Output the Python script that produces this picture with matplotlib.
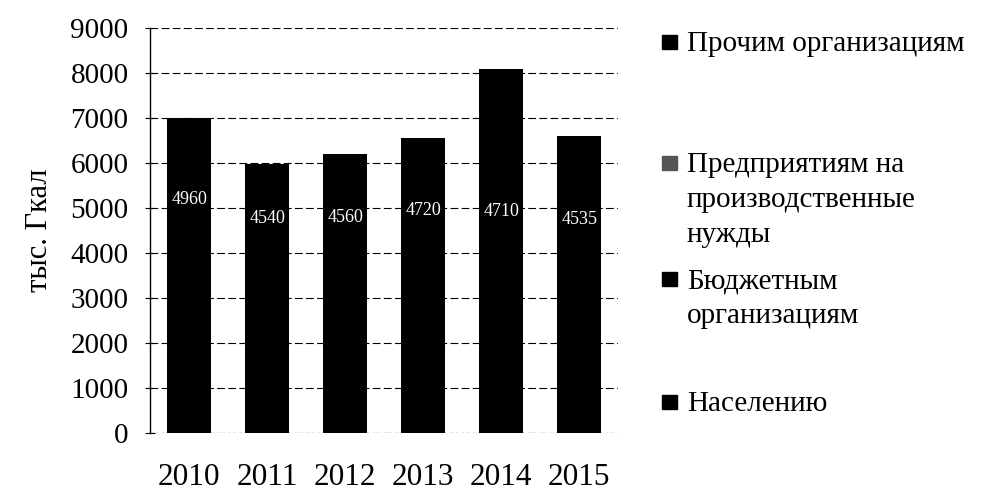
import numpy as np
import matplotlib.pyplot as plt
from matplotlib.patches import Rectangle

# data (тыс. Гкал)
years = ['2010', '2011', '2012', '2013', '2014', '2015']
naseleniyu = [4960, 4540, 4560, 4720, 4710, 4535]
byudzhetnym = [1300, 900, 1000, 1150, 2600, 1350]
predpriyatiyam = [440, 330, 380, 390, 490, 425]
prochim = [300, 200, 250, 300, 300, 300]
series_names = ['Населению', 'Бюджетным организациям',
                'Предприятиям на производственные нужды', 'Прочим организациям']

plt.rcParams['font.family'] = ['Liberation Serif', 'DejaVu Serif']

fig = plt.figure(figsize=(9.94, 4.93), dpi=100)
ax = fig.add_axes([0.151, 0.122, 0.471, 0.821])

x = np.arange(len(years))
w = 0.56
bottom = np.zeros(len(years))
bars = []
for vals in [naseleniyu, byudzhetnym, predpriyatiyam, prochim]:
    b = ax.bar(x, vals, w, bottom=bottom, color='black', zorder=3)
    bars.append(b)
    bottom += np.array(vals)

# population values written in white just above the segment edge
ax.bar_label(bars[0], labels=[str(v) for v in naseleniyu], label_type='edge',
             padding=1, color='white', fontsize=13, zorder=4)

ax.set_xlim(-0.5, len(years) - 0.5)
ax.set_ylim(0, 9000)
ax.set_yticks(np.arange(0, 9001, 1000))
ax.set_xticks(x)
ax.set_xticklabels(years)
ax.tick_params(axis='y', labelsize=21, direction='inout', length=7, width=0.8, pad=12)
ax.tick_params(axis='x', labelsize=22.5, length=0, pad=22)
ax.yaxis.grid(True, color='black', linestyle=(0, (7, 3)), linewidth=0.8, zorder=1)
for s in ['top', 'right', 'bottom']:
    ax.spines[s].set_visible(False)
ax.spines['left'].set_linewidth(1.0)
ax.axhline(0, color='black', linestyle=(0, (2, 3)), linewidth=0.8, zorder=2)
ax.set_ylabel('тыс. Гкал', fontsize=22, labelpad=12)

# legend drawn by hand to follow the original layout
legend_rows = [
    (['Прочим организациям'], 51, 'black'),
    (['Предприятиям на', 'производственные', 'нужды'], 172, '#555555'),
    (['Бюджетным', 'организациям'], 288, 'black'),
    (['Населению'], 411, 'black'),
]
W, H = 994, 493
for lines, base, col in legend_rows:
    fig.patches.append(Rectangle((662 / W, 1 - (base - 2) / H), 15 / W, 14 / H,
                                 transform=fig.transFigure, color=col))
    for i, line in enumerate(lines):
        fig.text(687 / W, 1 - (base + 35 * i) / H, line, fontsize=21,
                 va='baseline', ha='left')

fig.savefig('out.png', dpi=100, facecolor='white')
